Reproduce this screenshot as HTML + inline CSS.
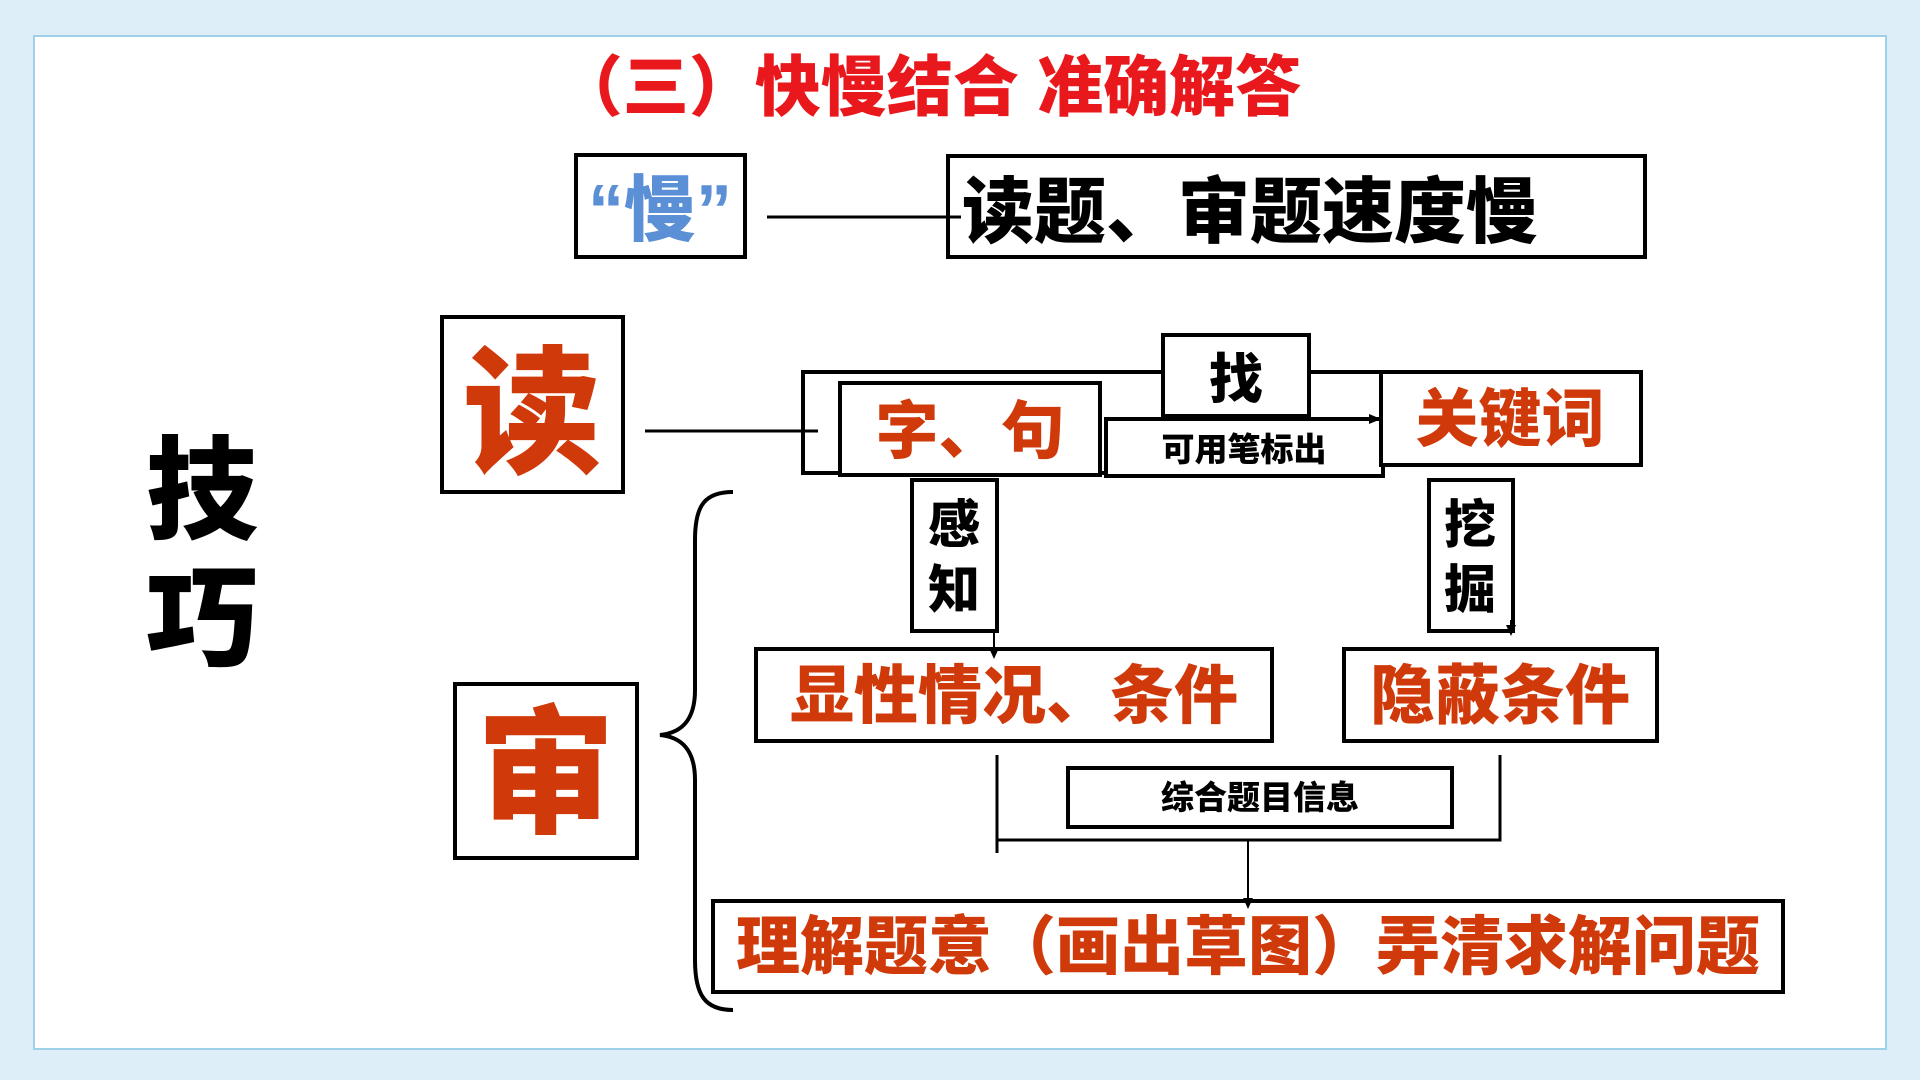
<!DOCTYPE html>
<html><head><meta charset="utf-8"><style>
html,body{margin:0;padding:0;background:#deeef8;}
svg{display:block}
text{font-family:"Liberation Sans","Noto Sans CJK SC",sans-serif;font-weight:900}
</style></head><body>
<svg width="1920" height="1080" viewBox="0 0 1920 1080">
<rect x="0" y="0" width="1920" height="1080" fill="#deeef8"/>
<rect x="34" y="36" width="1852" height="1013" fill="#fff" stroke="#9fd0ea" stroke-width="2"/>
<text x="929" y="110" font-size="66" fill="#e8181c" text-anchor="middle">（三）快慢结合  准确解答</text>
<g fill="none" stroke="#000" stroke-width="4">
<rect x="576" y="155" width="169" height="102"/>
<rect x="948" y="156" width="697" height="101"/>
<rect x="442" y="317" width="181" height="175"/>
<rect x="803" y="372" width="578" height="101"/>
<rect x="840" y="383" width="260" height="92" fill="#fff"/>
<rect x="1163" y="335" width="146" height="81" fill="#fff"/>
<rect x="1106" y="419" width="277" height="57" fill="#fff"/>
<rect x="1381" y="372" width="260" height="93" fill="#fff"/>
<rect x="912" y="480" width="85" height="151"/>
<rect x="1429" y="480" width="84" height="151"/>
<rect x="455" y="684" width="182" height="174"/>
<rect x="756" y="649" width="516" height="92"/>
<rect x="1344" y="649" width="313" height="92"/>
<rect x="1068" y="768" width="384" height="59"/>
<rect x="713" y="901" width="1070" height="91"/>
<line x1="767" y1="217" x2="961" y2="217" stroke-width="3"/>
<line x1="645" y1="431" x2="818" y2="431" stroke-width="3"/>
<line x1="997" y1="755" x2="997" y2="853" stroke-width="3"/>
<polyline points="997,840 1500,840 1500,755" stroke-width="3"/>
<line x1="1248" y1="840" x2="1248" y2="903" stroke-width="2"/>
<line x1="1106" y1="419" x2="1378" y2="419" stroke-width="2"/>
<line x1="994" y1="631" x2="994" y2="653" stroke-width="2"/>
<line x1="1511" y1="620" x2="1511" y2="634" stroke-width="2"/>
<path d="M733,492 C705,492 695,505 695,540 L695,690 C695,722 680,733 660,735 C680,737 695,748 695,780 L695,960 C695,995 705,1010 733,1010" stroke-width="4"/>
</g>
<g fill="#000">
<path d="M1381,419 l-12,-5 l0,10z"/>
<path d="M1248,909 l-5,-11 l10,0z"/>
<path d="M994,659 l-5,-11 l10,0z"/>
<path d="M1511,636 l-5,-11 l10,0z"/>
</g>
<text x="660" y="235" font-size="72" fill="#5b8fd6" text-anchor="middle">“慢”</text>
<text x="962" y="237" font-size="72" fill="#000">读题、审题速度慢</text>
<text x="532" y="462" font-size="138" fill="#d03a0a" text-anchor="middle">读</text>
<text x="546" y="822" font-size="138" fill="#d03a0a" text-anchor="middle">审</text>
<text x="970" y="453" font-size="63" fill="#d03a0a" text-anchor="middle">字、句</text>
<text x="1236" y="398" font-size="54" fill="#000" text-anchor="middle">找</text>
<text x="1244" y="461" font-size="33" fill="#000" text-anchor="middle">可用笔标出</text>
<text x="1510" y="441" font-size="63" fill="#d03a0a" text-anchor="middle">关键词</text>
<text x="954" y="543" font-size="52" fill="#000" text-anchor="middle">感</text>
<text x="954" y="608" font-size="52" fill="#000" text-anchor="middle">知</text>
<text x="1470" y="543" font-size="52" fill="#000" text-anchor="middle">挖</text>
<text x="1470" y="608" font-size="52" fill="#000" text-anchor="middle">掘</text>
<text x="1014" y="718" font-size="64" fill="#d03a0a" text-anchor="middle">显性情况、条件</text>
<text x="1500" y="718" font-size="65" fill="#d03a0a" text-anchor="middle">隐蔽条件</text>
<text x="1260" y="809" font-size="33" fill="#000" text-anchor="middle">综合题目信息</text>
<text x="1248" y="969" font-size="64" fill="#d03a0a" text-anchor="middle">理解题意（画出草图）弄清求解问题</text>
<text x="202" y="530" font-size="112" fill="#000" text-anchor="middle">技</text>
<text x="202" y="658" font-size="112" fill="#000" text-anchor="middle">巧</text>
</svg>
</body></html>
